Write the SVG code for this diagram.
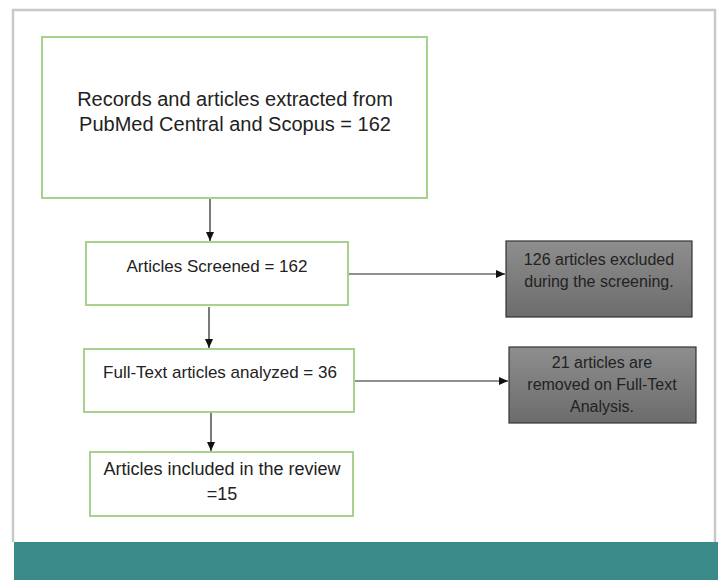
<svg xmlns="http://www.w3.org/2000/svg" width="718" height="580" viewBox="0 0 718 580">
<defs>
<marker id="ah" markerUnits="userSpaceOnUse" markerWidth="10" markerHeight="10" refX="9" refY="5" orient="auto">
<path d="M0,1 L9,5 L0,9 Z" fill="#111"/>
</marker>
<linearGradient id="gg" x1="0" y1="0" x2="0" y2="1">
<stop offset="0" stop-color="#8e8e8e"/>
<stop offset="1" stop-color="#6c6c6c"/>
</linearGradient>
<style>
.g{fill:#fff;stroke:#a9d18e;stroke-width:2}
.d{fill:url(#gg);stroke:#333;stroke-width:1.2}
.t{font-family:"Liberation Sans",Arial,sans-serif;fill:#222;text-anchor:middle}
.c{stroke:#222;stroke-width:1.2;fill:none;marker-end:url(#ah)}
</style>
</defs>
<rect x="0" y="0" width="718" height="580" fill="#fff"/>
<path d="M13,542 V10 H715 V542" fill="none" stroke="#c8c8c8" stroke-width="2.5"/>
<rect x="14" y="542" width="704" height="38" fill="#3b8a8a"/>
<g id="n1"><rect class="g" x="42" y="37" width="385" height="161"/>
<text class="t" font-size="20" x="235" y="106">Records and articles extracted from</text>
<text class="t" font-size="20" x="235" y="131">PubMed Central and Scopus = 162</text></g>
<g id="n2"><rect class="g" x="86" y="242" width="262" height="63"/>
<text class="t" font-size="17" x="217" y="272">Articles Screened = 162</text></g>
<g id="n3"><rect class="g" x="84" y="349" width="270" height="63"/>
<text class="t" font-size="17" x="220" y="378">Full-Text articles analyzed = 36</text></g>
<g id="n4"><rect class="g" x="90" y="452" width="263" height="64"/>
<text class="t" font-size="18" x="222" y="475">Articles included in the review</text>
<text class="t" font-size="18" x="222" y="500">=15</text></g>
<g id="x1"><rect class="d" x="506" y="241" width="186" height="76"/>
<text class="t" font-size="16" x="599" y="265">126 articles excluded</text>
<text class="t" font-size="16" x="599" y="287">during the screening.</text></g>
<g id="x2"><rect class="d" x="509" y="347" width="187" height="76"/>
<text class="t" font-size="16" x="602" y="368">21 articles are</text>
<text class="t" font-size="16" x="602" y="390">removed on Full-Text</text>
<text class="t" font-size="16" x="602" y="412">Analysis.</text></g>
<g id="connectors">
<line class="c" x1="210" y1="199" x2="210" y2="241"/>
<line class="c" x1="209" y1="307" x2="209" y2="348"/>
<line class="c" x1="211" y1="413" x2="211" y2="451"/>
<line class="c" x1="349" y1="274" x2="505" y2="274"/>
<line class="c" x1="355" y1="381" x2="508" y2="381"/>
</g>
</svg>
